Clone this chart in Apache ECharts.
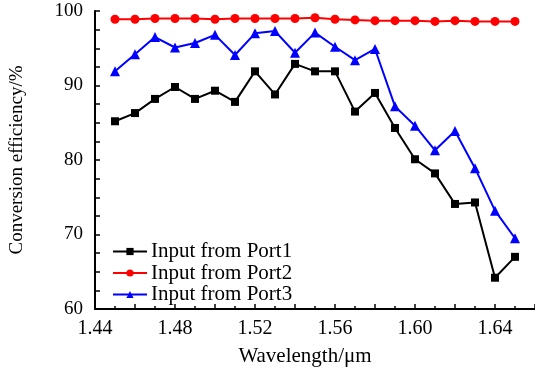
<!DOCTYPE html>
<html>
<head>
<meta charset="utf-8">
<style>html,body{margin:0;padding:0;background:#fff;}</style>
</head>
<body>
<div id="main" style="width:535px;height:372px;"></div>
<script src="https://cdn.jsdelivr.net/npm/echarts@6/dist/echarts.min.js"></script>
<script type="text/javascript">
	// 波长 (μm)
	var wavelength = [1.45, 1.46, 1.47, 1.48, 1.49, 1.50, 1.51, 1.52, 1.53, 1.54, 1.55,
	    1.56, 1.57, 1.58, 1.59, 1.60, 1.61, 1.62, 1.63, 1.64, 1.65];
	var port1 = [85.2, 86.3, 88.2, 89.8, 88.2, 89.3, 87.8, 91.9, 88.8, 92.9, 91.9,
	    91.9, 86.5, 89.0, 84.3, 80.1, 78.2, 74.1, 74.3, 64.2, 67.0];
	var port2 = [98.9, 98.9, 99.0, 99.0, 99.0, 98.9, 99.0, 99.0, 99.0, 99.0, 99.1,
	    98.9, 98.8, 98.7, 98.7, 98.7, 98.6, 98.7, 98.6, 98.6, 98.6];
	var port3 = [91.9, 94.2, 96.5, 95.1, 95.7, 96.8, 94.1, 97.0, 97.3, 94.4, 97.1,
	    95.2, 93.4, 94.9, 87.2, 84.6, 81.3, 83.9, 78.9, 73.2, 69.5];
	var seriesNames = ['Input from Port1', 'Input from Port2', 'Input from Port3'];

	function pairs(ys) {
	    return wavelength.map(function (x, i) { return [x, ys[i]]; });
	}

	var font = '"Liberation Serif", "Times New Roman", serif';
	var myCharts = echarts.init(document.getElementById('main'));

	var option = {
	    backgroundColor: '#fff',
	    animation: false,
	    textStyle: { fontFamily: font },
	    grid: { left: 92, top: 11, width: 446, bottom: 63 },
	    legend: {
	        orient: 'vertical',
	        left: 112,
	        top: 241,
	        padding: 0,
	        itemWidth: 34,
	        itemHeight: 9,
	        itemGap: 0.5,
	        textStyle: { fontFamily: font, fontSize: 21, lineHeight: 18, color: '#000', padding: [0, 0, 0, -1] },
	        data: seriesNames
	    },
	    xAxis: {
	        type: 'value',
	        min: 1.44,
	        max: 1.66,
	        interval: 0.02,
	        name: 'Wavelength/μm',
	        nameLocation: 'middle',
	        nameGap: 37,
	        nameTextStyle: { fontFamily: font, fontSize: 21, color: '#000', padding: [0, 20, 0, 0] },
	        axisLine: { lineStyle: { color: '#000', width: 2 } },
	        axisTick: { inside: true, length: 5, lineStyle: { color: '#000', width: 1.5 } },
	        minorTick: { show: true, splitNumber: 2, length: 3, lineStyle: { color: '#000', width: 1.5 } },
	        splitLine: { show: false },
	        axisLabel: {
	            fontFamily: font, fontSize: 20, color: '#000', margin: 10,
	            showMaxLabel: false,
	            formatter: function (v) {
	                var k = Math.round(v * 100);
	                return (k % 4 === 0) ? v.toFixed(2) : '';
	            }
	        }
	    },
	    yAxis: {
	        type: 'value',
	        min: 60,
	        max: 100,
	        interval: 10,
	        name: 'Conversion efficiency/%',
	        nameLocation: 'middle',
	        nameGap: 68,
	        nameTextStyle: { fontFamily: font, fontSize: 19, color: '#000' },
	        axisLine: { show: true, lineStyle: { color: '#000', width: 2 } },
	        axisTick: { show: true, inside: true, length: 5, lineStyle: { color: '#000', width: 1.5 } },
	        minorTick: { show: true, splitNumber: 4, length: 5, lineStyle: { color: '#000', width: 1.5 } },
	        splitLine: { show: false },
	        axisLabel: { fontFamily: font, fontSize: 19, color: '#000', margin: 12 }
	    },
	    series: [
	        {
	            name: seriesNames[0], type: 'line', data: pairs(port1),
	            symbol: 'rect', symbolSize: 8,
	            itemStyle: { color: '#000' },
	            lineStyle: { color: '#000', width: 2 }
	        },
	        {
	            name: seriesNames[1], type: 'line', data: pairs(port2),
	            symbol: 'circle', symbolSize: 9,
	            itemStyle: { color: '#ff0000' },
	            lineStyle: { color: '#ff0000', width: 2 }
	        },
	        {
	            name: seriesNames[2], type: 'line', data: pairs(port3),
	            symbol: 'triangle', symbolSize: 10,
	            itemStyle: { color: '#0000ff' },
	            lineStyle: { color: '#0000ff', width: 2 }
	        }
	    ]
	};
	myCharts.setOption(option);
</script>
</body>
</html>
